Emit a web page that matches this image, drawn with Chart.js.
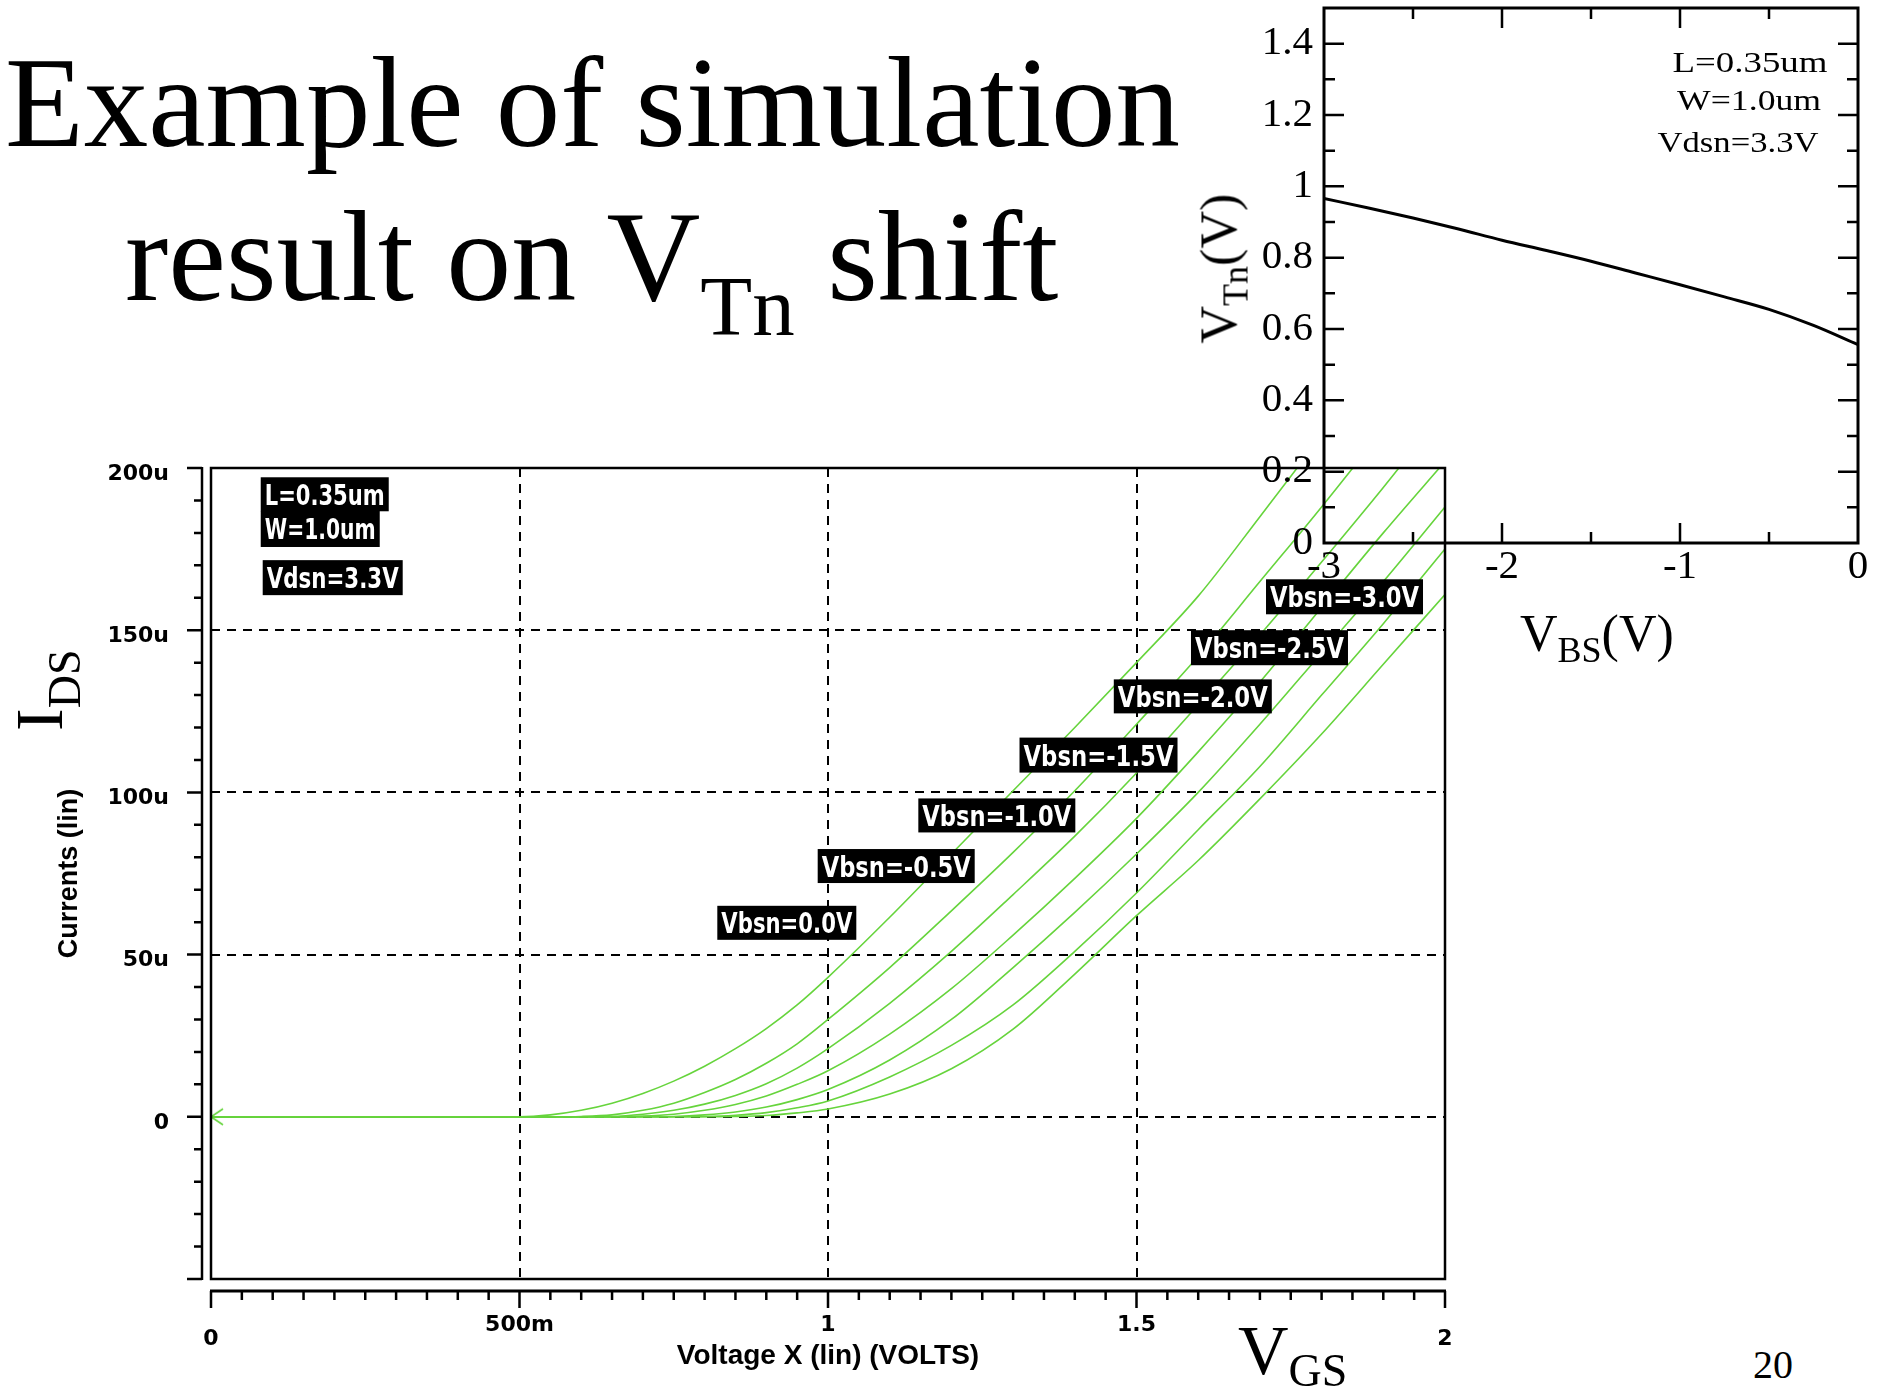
<!DOCTYPE html>
<html>
<head>
<meta charset="utf-8">
<script src="https://cdn.jsdelivr.net/npm/chart.js@4.4.1/dist/chart.umd.min.js"></script>
<style>
  html, body { margin: 0; padding: 0; background: #fff; }
  #page { position: relative; width: 1880px; height: 1391px; overflow: hidden; background: #fff; }
  .t { position: absolute; font-family: 'Liberation Serif', 'Times New Roman', serif; color: #000; white-space: nowrap; line-height: 1; }
  #mainWrap { position: absolute; left: 0; top: 440px; width: 1470px; height: 951px; }
  #insetWrap { position: absolute; left: 1180px; top: 0; width: 700px; height: 700px; }
  canvas { display: block; }
</style>
</head>
<body>
<div id="page">
  <div id="mainWrap"><canvas id="mainCanvas" width="1470" height="951"></canvas></div>
  <div id="insetWrap"><canvas id="insetCanvas" width="700" height="700"></canvas></div>

  <div class="t" style="left:5px;top:38px;font-size:129px;">Example of simulation</div>
  <div class="t" style="left:125px;top:191px;font-size:130px;">result on V<span style="font-size:85px;vertical-align:-35px;line-height:1;">Tn</span> shift</div>

  <div class="t" style="left:62px;top:674px;font-size:68px;transform-origin:0 57px;transform:rotate(-90deg);">I<span style="font-size:46px;vertical-align:-18px;line-height:1;">DS</span></div>
  <div class="t" style="left:1238px;top:1316px;font-size:70px;">V<span style="font-size:46px;vertical-align:-12px;line-height:1;">GS</span></div>

  <div class="t" style="left:1237px;top:300px;font-size:52px;transform-origin:0 43.5px;transform:rotate(-90deg);">V<span style="font-size:36px;vertical-align:-11px;line-height:1;">Tn</span>(V)</div>
  <div class="t" style="left:1520px;top:608px;font-size:52px;">V<span style="font-size:36px;vertical-align:-11px;line-height:1;">BS</span>(V)</div>

  <div class="t" style="left:1753px;top:1345px;font-size:40px;">20</div>
</div>

<script>
// ---------------- data: main chart (I_DS vs V_GS) ----------------
const vgs = [0, 0.5, 0.55, 0.6, 0.65, 0.7, 0.75, 0.8, 0.85, 0.9, 0.95, 1.0, 1.1, 1.2, 1.3, 1.4, 1.5, 1.6, 1.7, 1.8, 1.9, 2.0];
const vbsnLabels = ['Vbsn=0.0V', 'Vbsn=-0.5V', 'Vbsn=-1.0V', 'Vbsn=-1.5V', 'Vbsn=-2.0V', 'Vbsn=-2.5V', 'Vbsn=-3.0V'];
// currents in microamps
const ids0 = [0, 0, 0.6, 2.0, 4.2, 7.2, 11.0, 15.6, 21.0, 27.2, 34.5, 43, 61.5, 81, 100.5, 120, 140, 160.5, 185, 210, 236, 262];
const ids1 = [0, 0, 0, 0.1, 0.6, 2.0, 4.2, 7.5, 11.5, 16.5, 22.5, 30, 46, 63.5, 81.5, 100.5, 121, 142, 165, 188, 212, 237];
const ids2 = [0, 0, 0, 0, 0.1, 0.8, 2.0, 3.9, 6.6, 10.2, 15.0, 21, 35, 51, 68.5, 86.5, 106, 127, 148.5, 171, 194, 218];
const ids3 = [0, 0, 0, 0, 0, 0.2, 0.8, 2.0, 3.8, 6.4, 10, 14.2, 25.5, 39.5, 56, 73.5, 92, 112.5, 134, 157, 180, 202];
const ids4 = [0, 0, 0, 0, 0, 0, 0.1, 0.6, 1.5, 3.0, 5.3, 8.4, 17.5, 30, 46, 63, 81, 100, 121, 143, 165, 188];
const ids5 = [0, 0, 0, 0, 0, 0, 0, 0.1, 0.5, 1.3, 2.8, 4.9, 12.3, 22, 34.5, 51, 69, 88.5, 108, 130, 152, 175];
const ids6 = [0, 0, 0, 0, 0, 0, 0, 0, 0.1, 0.4, 1.2, 2.4, 7, 14.8, 27, 44, 62, 79, 98, 118, 139.5, 161];
const idsSeries = [ids0, ids1, ids2, ids3, ids4, ids5, ids6];

const xTickValues = [0, 0.5, 1, 1.5, 2];
const xTickLabels = ['0', '500m', '1', '1.5', '2'];
const yTickValues = [0, 50, 100, 150, 200];
const yTickLabels = ['0', '50u', '100u', '150u', '200u'];
const mainParams = ['L=0.35um', 'W=1.0um', 'Vdsn=3.3V'];

// ---------------- data: inset chart (V_Tn vs V_BS) ----------------
const vbs = [-3, -2.75, -2.5, -2.25, -2, -1.75, -1.5, -1.25, -1, -0.75, -0.5, -0.25, 0];
const vtn = [0.966, 0.939, 0.911, 0.881, 0.849, 0.820, 0.790, 0.757, 0.724, 0.690, 0.655, 0.610, 0.556];
const insetXTickValues = [-3, -2, -1, 0];
const insetXTickLabels = ['-3', '-2', '-1', '0'];
const insetYTickLabels = ['0', '0.2', '0.4', '0.6', '0.8', '1', '1.2', '1.4'];
const insetParams = ['L=0.35um', 'W=1.0um', 'Vdsn=3.3V'];

// ---------------- annotation placement (data coordinates) ----------------
const mainNotes = [
  { text: mainParams[0], x: 0.0806, y: 191.9, w: 128, h: 34 },
  { text: mainParams[1], x: 0.0806, y: 181.2, w: 119, h: 36 },
  { text: mainParams[2], x: 0.0838, y: 166.2, w: 140, h: 35 },
  { text: vbsnLabels[0], x: 0.8206, y: 59.8, w: 139, h: 34 },
  { text: vbsnLabels[1], x: 0.9833, y: 77.3, w: 157, h: 34 },
  { text: vbsnLabels[2], x: 1.1464, y: 92.9, w: 157, h: 34 },
  { text: vbsnLabels[3], x: 1.3104, y: 111.5, w: 158, h: 35 },
  { text: vbsnLabels[4], x: 1.4632, y: 129.6, w: 158, h: 34 },
  { text: vbsnLabels[5], x: 1.5883, y: 144.6, w: 157, h: 35 },
  { text: vbsnLabels[6], x: 1.7099, y: 160.3, w: 157, h: 35 }
];
const insetNotes = [
  { text: insetParams[0], x: -0.607, y: 1.349, w: 155 },
  { text: insetParams[1], x: -0.612, y: 1.242, w: 144 },
  { text: insetParams[2], x: -0.674, y: 1.124, w: 161 }
];

const GREEN = '#66d43c';

function fitText(ctx, text, x, y, width) {
  const m = ctx.measureText(text).width;
  ctx.save();
  ctx.translate(x, y);
  ctx.scale(width / m, 1);
  ctx.textAlign = 'left';
  ctx.textBaseline = 'alphabetic';
  ctx.fillText(text, 0, 0);
  ctx.restore();
}

// "<" marker at the origin of the first trace
const chevron = (() => {
  const c = document.createElement('canvas');
  c.width = 28; c.height = 24;
  const g = c.getContext('2d');
  g.strokeStyle = GREEN; g.lineWidth = 1.6;
  g.beginPath(); g.moveTo(26, 4); g.lineTo(14, 12); g.lineTo(26, 20); g.stroke();
  return c;
})();

const mainDecor = {
  id: 'mainDecor',
  afterDraw(chart) {
    const { ctx, chartArea: a, scales } = chart;
    const xs = scales.x, ys = scales.y;
    ctx.save();
    ctx.setLineDash([]);
    ctx.strokeStyle = '#000';
    ctx.lineWidth = 2.5;
    ctx.strokeRect(a.left, a.top, a.right - a.left, a.bottom - a.top);
    // detached y axis
    const ax = a.left - 9;
    ctx.beginPath();
    ctx.moveTo(ax, a.top - 1); ctx.lineTo(ax, a.bottom + 1);
    for (let v = -50; v <= 200; v += 10) {
      const py = ys.getPixelForValue(v);
      const len = (v % 50 === 0) ? 15 : 8;
      ctx.moveTo(ax - len, py); ctx.lineTo(ax, py);
    }
    ctx.stroke();
    // detached x axis
    const ay = a.bottom + 12;
    ctx.lineWidth = 3;
    ctx.beginPath(); ctx.moveTo(a.left - 1, ay); ctx.lineTo(a.right + 1, ay); ctx.stroke();
    ctx.lineWidth = 2.5;
    ctx.beginPath();
    for (let i = 0; i <= 40; i++) {
      const px = xs.getPixelForValue(i * 0.05);
      const len = (i % 10 === 0) ? 17 : 9;
      ctx.moveTo(px, ay); ctx.lineTo(px, ay + len);
    }
    ctx.stroke();
    // label boxes
    ctx.font = 'bold 29px "DejaVu Sans", "Liberation Sans", sans-serif';
    mainNotes.forEach(n => {
      const left = xs.getPixelForValue(n.x);
      const cy = ys.getPixelForValue(n.y);
      ctx.fillStyle = '#000';
      ctx.fillRect(left, cy - n.h / 2, n.w, n.h);
      ctx.fillStyle = '#fff';
      fitText(ctx, n.text, left + 4, cy + 10.5, n.w - 8);
    });
    ctx.restore();
  }
};

const insetDecor = {
  id: 'insetDecor',
  afterDraw(chart) {
    const { ctx, chartArea: a, scales } = chart;
    const xs = scales.x, ys = scales.y;
    ctx.save();
    ctx.strokeStyle = '#000';
    ctx.lineWidth = 3;
    ctx.strokeRect(a.left, a.top, a.right - a.left, a.bottom - a.top);
    ctx.lineWidth = 2.5;
    ctx.beginPath();
    for (let i = 1; i <= 14; i++) {
      const py = ys.getPixelForValue(i * 0.1);
      const len = (i % 2 === 0) ? 20 : 11;
      ctx.moveTo(a.left, py); ctx.lineTo(a.left + len, py);
      ctx.moveTo(a.right, py); ctx.lineTo(a.right - len, py);
    }
    for (let i = 1; i <= 5; i++) {
      const px = xs.getPixelForValue(-3 + i * 0.5);
      const len = (i % 2 === 0) ? 20 : 11;
      ctx.moveTo(px, a.bottom); ctx.lineTo(px, a.bottom - len);
      ctx.moveTo(px, a.top); ctx.lineTo(px, a.top + len);
    }
    ctx.stroke();
    ctx.fillStyle = '#000';
    ctx.font = '30px "Liberation Serif", "Times New Roman", serif';
    insetNotes.forEach(n => {
      const cx = xs.getPixelForValue(n.x);
      const cy = ys.getPixelForValue(n.y);
      fitText(ctx, n.text, cx - n.w / 2, cy + 10, n.w);
    });
    ctx.restore();
  }
};

const gridColor = (lo, hi) => (c) => (c.tick && c.tick.value > lo + 1e-9 && c.tick.value < hi - 1e-9) ? '#000' : 'rgba(0,0,0,0)';

new Chart(document.getElementById('mainCanvas'), {
  type: 'line',
  data: {
    datasets: idsSeries.map((s, i) => ({
      label: vbsnLabels[i],
      data: vgs.map((v, j) => ({ x: v, y: s[j] })),
      borderColor: GREEN,
      backgroundColor: GREEN,
      borderWidth: 1.6,
      fill: false,
      cubicInterpolationMode: 'monotone',
      pointStyle: i === 0 ? chevron : 'circle',
      pointRadius: i === 0 ? (c => c.dataIndex === 0 ? 6 : 0) : 0,
      pointHoverRadius: 0
    }))
  },
  options: {
    responsive: false,
    animation: false,
    devicePixelRatio: 1,
    events: [],
    layout: { padding: { left: 0, right: 25, top: 28, bottom: 0 } },
    plugins: { legend: { display: false }, tooltip: { enabled: false }, title: { display: false } },
    scales: {
      x: {
        type: 'linear', min: 0, max: 2, position: 'bottom',
        afterFit: s => { s.height = 112; s.paddingLeft = 0; s.paddingRight = 0; },
        ticks: {
          stepSize: 0.5, autoSkip: false, maxRotation: 0, padding: 39, color: '#000',
          font: { family: '"DejaVu Sans", "Liberation Sans", sans-serif', size: 22, weight: 'bold', lineHeight: 0.65 },
          callback: (v) => {
            const i = xTickValues.findIndex(t => Math.abs(t - v) < 1e-6);
            if (i < 0) return '';
            return (i === 0 || i === xTickValues.length - 1) ? ['', xTickLabels[i]] : xTickLabels[i];
          }
        },
        grid: { color: gridColor(0, 2), lineWidth: 2, drawTicks: false, borderDash: [9, 7] },
        border: { display: false, dash: [9, 7] },
        title: { display: true, text: 'Voltage X (lin) (VOLTS)', color: '#000',
          font: { family: '"Liberation Sans", Arial, sans-serif', size: 28, weight: 'bold' },
          padding: { top: 0, bottom: 18 } }
      },
      y: {
        type: 'linear', min: -50, max: 200,
        afterFit: s => { s.width = 211; s.paddingTop = 0; s.paddingBottom = 0; },
        ticks: {
          stepSize: 50, autoSkip: false, padding: 42, labelOffset: 6, color: '#000',
          font: { family: '"DejaVu Sans", "Liberation Sans", sans-serif', size: 22, weight: 'bold' },
          callback: (v) => { const i = yTickValues.indexOf(v); return i < 0 ? '' : yTickLabels[i]; }
        },
        grid: { color: gridColor(-50, 200), lineWidth: 2, drawTicks: false, borderDash: [9, 7] },
        border: { display: false, dash: [9, 7] },
        title: { display: true, text: 'Currents (lin)', color: '#000',
          font: { family: '"Liberation Sans", Arial, sans-serif', size: 27, weight: 'bold' },
          padding: { top: 53, bottom: 0 } }
      }
    }
  },
  plugins: [mainDecor]
});

new Chart(document.getElementById('insetCanvas'), {
  type: 'line',
  data: {
    datasets: [{
      label: 'VTn',
      data: vbs.map((v, i) => ({ x: v, y: vtn[i] })),
      borderColor: '#000',
      borderWidth: 3,
      fill: false,
      pointRadius: 0,
      pointHoverRadius: 0,
      cubicInterpolationMode: 'monotone'
    }]
  },
  options: {
    responsive: false,
    animation: false,
    devicePixelRatio: 1,
    events: [],
    layout: { padding: { left: 0, right: 22, top: 8, bottom: 0 } },
    plugins: { legend: { display: false }, tooltip: { enabled: false }, title: { display: false } },
    scales: {
      x: {
        type: 'linear', min: -3, max: 0,
        afterFit: s => { s.height = 157; s.paddingLeft = 0; s.paddingRight = 0; },
        ticks: {
          stepSize: 1, autoSkip: false, maxRotation: 0, padding: 3.5, color: '#000',
          font: { family: '"Liberation Serif", "Times New Roman", serif', size: 41, lineHeight: 1 },
          callback: (v) => { const i = insetXTickValues.findIndex(t => Math.abs(t - v) < 1e-6); return i < 0 ? '' : insetXTickLabels[i]; }
        },
        grid: { display: false, drawTicks: false },
        border: { display: false }
      },
      y: {
        type: 'linear', min: 0, max: 1.5,
        afterFit: s => { s.width = 144; s.paddingTop = 0; s.paddingBottom = 0; },
        ticks: {
          stepSize: 0.2, includeBounds: false, autoSkip: false, padding: 11, color: '#000',
          font: { family: '"Liberation Serif", "Times New Roman", serif', size: 41, lineHeight: 1 },
          callback: (v) => {
            const i = Math.round(v / 0.2);
            return (Math.abs(v - i * 0.2) < 1e-6 && i >= 0 && i < insetYTickLabels.length) ? insetYTickLabels[i] : '';
          }
        },
        grid: { display: false, drawTicks: false },
        border: { display: false }
      }
    }
  },
  plugins: [insetDecor]
});
</script>
</body>
</html>
